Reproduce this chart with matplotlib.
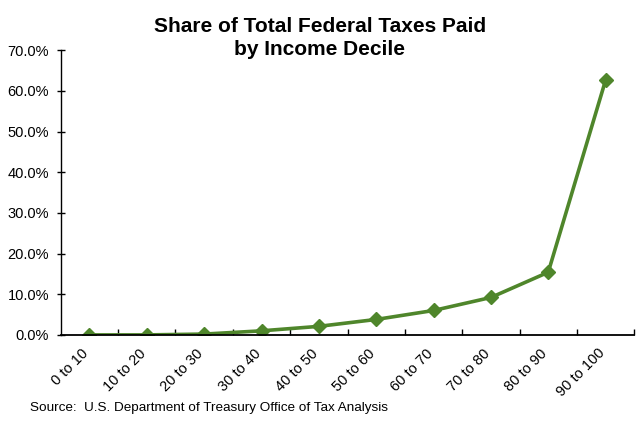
import matplotlib
matplotlib.use("Agg")
import matplotlib.pyplot as plt
import matplotlib.transforms as mtransforms
from matplotlib.ticker import FuncFormatter

plt.rcParams['font.family'] = ['Liberation Sans', 'DejaVu Sans']

deciles = ['0 to 10', '10 to 20', '20 to 30', '30 to 40', '40 to 50',
           '50 to 60', '60 to 70', '70 to 80', '80 to 90', '90 to 100']
share = [0.0, 0.0, 0.2, 1.0, 2.1, 3.8, 6.0, 9.2, 15.4, 62.6]
yticks = [0, 10, 20, 30, 40, 50, 60, 70]

green = '#4f862b'

fig = plt.figure(figsize=(6.4, 4.25), dpi=100)
ax = fig.add_axes([0.095, 0.212, 0.896, 0.670])

x = list(range(len(deciles)))
ax.plot(x, share, color=green, lw=2.6, marker='D', ms=7,
        markerfacecolor=green, markeredgecolor=green)

ax.set_xlim(-0.5, len(deciles) - 0.5)
ax.set_ylim(0, 70)
ax.set_yticks(yticks)
ax.yaxis.set_major_formatter(FuncFormatter(lambda v, p: '%.1f%%' % v))
ax.tick_params(axis='y', direction='inout', length=6, width=1, labelsize=10.5, pad=5.5)

# category boundaries get the tick marks, labels sit at the centres
ax.set_xticks([i + 0.5 for i in x[:-1]] + [len(deciles) - 0.5])
ax.set_xticklabels([])
ax.tick_params(axis='x', which='major', direction='in', length=4, width=1)
ax.set_xticks(x, minor=True)
ax.set_xticklabels(deciles, minor=True, rotation=45, ha='right', va='center',
                   rotation_mode='anchor', fontsize=10.5)
ax.tick_params(axis='x', which='minor', length=0, pad=11)
shift = mtransforms.ScaledTranslation(-0.03, -0.01, fig.dpi_scale_trans)
for lab in ax.get_xticklabels(minor=True):
    lab.set_transform(lab.get_transform() + shift)

for s in ['top', 'right']:
    ax.spines[s].set_visible(False)
ax.spines['left'].set_linewidth(1)
ax.spines['bottom'].set_linewidth(1.3)

fig.text(0.5, 0.9247, 'Share of Total Federal Taxes Paid',
         ha='center', va='baseline', fontsize=15, fontweight='bold')
fig.text(0.5, 0.8706, 'by Income Decile',
         ha='center', va='baseline', fontsize=15, fontweight='bold')
fig.text(0.047, 0.025, 'Source:  U.S. Department of Treasury Office of Tax Analysis',
         ha='left', va='bottom', fontsize=9.7)

fig.savefig('out.png', dpi=100)
